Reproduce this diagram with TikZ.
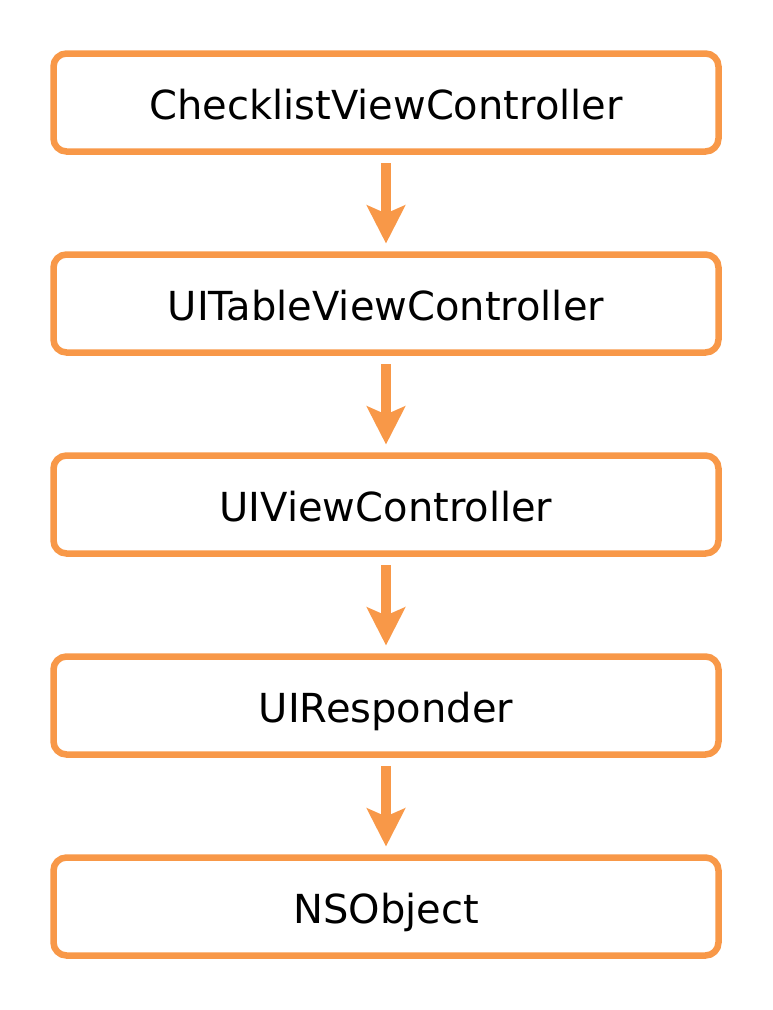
\documentclass[tikz,border=0pt]{standalone}
\usepackage{fontspec}
\setmainfont{DejaVu Sans}
\usetikzlibrary{positioning,arrows.meta}

\definecolor{boxorange}{RGB}{248,152,72}

\begin{document}
\begin{tikzpicture}[
		class/.style={draw=boxorange, line width=6.5pt, rounded corners=13pt, outer sep=0pt,
			minimum width=665pt, minimum height=98pt, text height=33pt, text depth=0pt,
			font=\fontsize{40}{48}\selectfont},
		line/.style={-{Stealth[length=38pt, width=38pt, inset=8pt]}, line width=10pt, draw=boxorange,
			shorten <=11.5pt, shorten >=11pt},
		node distance=103pt
		]
		\useasboundingbox (0,0) rectangle (772pt,-1010pt);
		
		% ======================
		% Class hierarchy
		% ======================
		\node[class] (checklist) at (386pt,-102.5pt) {ChecklistViewController};
		\node[class, below=of checklist] (tablevc) {UITableViewController};
		\node[class, below=of tablevc] (viewvc) {UIViewController};
		\node[class, below=of viewvc] (responder) {UIResponder};
		\node[class, below=of responder] (nsobject) {NSObject};
		
		% ======================
		% Inheritance arrows
		% ======================
		\draw[line] (checklist) -- (tablevc);
		\draw[line] (tablevc) -- (viewvc);
		\draw[line] (viewvc) -- (responder);
		\draw[line] (responder) -- (nsobject);
		
	\end{tikzpicture}
\end{document}
